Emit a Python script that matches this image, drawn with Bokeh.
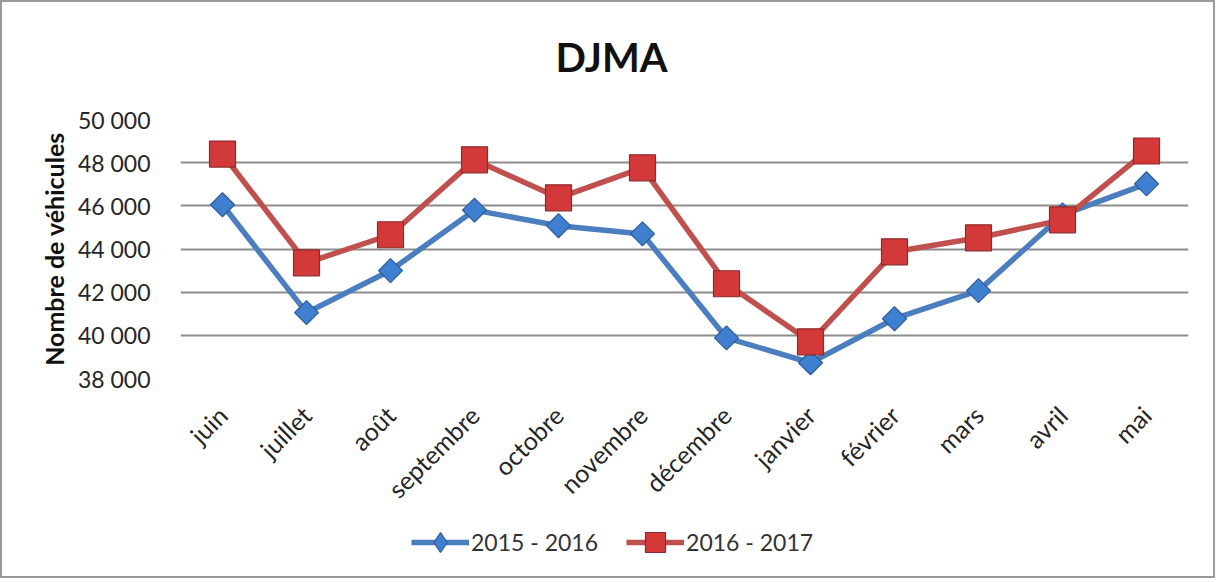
import math
from bokeh.plotting import figure
from bokeh.layouts import column
from bokeh.models import FactorRange, Range1d, FixedTicker, Legend, LegendItem, Label
from bokeh.embed import file_html
from bokeh.resources import INLINE

months = ["juin", "juillet", "août", "septembre", "octobre", "novembre",
          "décembre", "janvier", "février", "mars", "avril", "mai"]
s2015 = [46050, 41050, 43000, 45800, 45080, 44700, 39880, 38730, 40770, 42070, 45580, 47020]
s2016 = [48400, 43360, 44660, 48130, 46370, 47760, 42390, 39700, 43870, 44520, 45350, 48540]
series_names = ["2015 - 2016", "2016 - 2017"]
chart_title = "DJMA"
yticks = [38000, 40000, 42000, 44000, 46000, 48000, 50000]
ytick_labels = {t: f"{t:,}".replace(",", " ") for t in yticks}

FONT = "Lato"
blue_line = "#4a7ebf"
red_line = "#c0504d"
blue_fill, blue_edge = "#3f7fd0", "#2c5c99"
red_fill, red_edge = "#d4393a", "#8e2a2a"
TOTAL_W = 1211

# ---- title strip ----
tf = figure(width=TOTAL_W, height=100, x_range=Range1d(0, 1), y_range=Range1d(0, 1),
            output_backend="svg", toolbar_location=None,
            min_border_left=0, min_border_right=0, min_border_top=0, min_border_bottom=0)
tf.axis.visible = False
tf.grid.visible = False
tf.outline_line_color = None
tf.border_fill_color = "white"
tf.add_layout(Label(x=431, y=46, x_units="screen", y_units="screen", text=chart_title,
                    text_font=FONT, text_font_size="40px", text_font_style="bold",
                    text_align="center", text_baseline="alphabetic", text_color="#111111"))

# ---- main chart ----
p = figure(frame_width=1008, frame_height=259, x_range=FactorRange(*months, range_padding=0),
           y_range=Range1d(38000, 50000), output_backend="svg", toolbar_location=None,
           min_border_left=178, min_border_right=25, min_border_top=17, min_border_bottom=125)
p.outline_line_color = None
p.background_fill_color = "white"
p.border_fill_color = "white"

p.xgrid.grid_line_color = None
p.ygrid.grid_line_color = "#8c8c8c"
p.ygrid.grid_line_width = 2

p.yaxis.ticker = FixedTicker(ticks=yticks)
p.yaxis.major_label_overrides = ytick_labels
p.yaxis.axis_line_color = None
p.yaxis.major_tick_line_color = None
p.yaxis.minor_tick_line_color = None
p.yaxis.major_label_standoff = 24
p.yaxis.major_label_text_font = FONT
p.yaxis.major_label_text_font_size = "23px"
p.yaxis.major_label_text_color = "#262626"
p.yaxis.axis_label = "Nombre de véhicules"
p.yaxis.axis_label_text_font = FONT
p.yaxis.axis_label_text_font_style = "bold"
p.yaxis.axis_label_text_font_size = "25px"
p.yaxis.axis_label_text_color = "#111111"
p.yaxis.axis_label_standoff = 6

p.xaxis.axis_line_color = None
p.xaxis.major_tick_line_color = None
p.xaxis.minor_tick_line_color = None
p.xaxis.major_label_orientation = math.pi / 4
p.xaxis.major_label_standoff = 26
p.xaxis.major_label_text_font = FONT
p.xaxis.major_label_text_font_size = "25px"
p.xaxis.major_label_text_color = "#262626"

p.line(months, s2015, line_color=blue_line, line_width=5.5, line_join="round")
p.scatter(months, s2015, marker="square", angle=math.pi / 4, size=17,
          fill_color=blue_fill, line_color=blue_edge, line_width=1.2)
p.line(months, s2016, line_color=red_line, line_width=5.5, line_join="round")
p.scatter(months, s2016, marker="square", size=26,
          fill_color=red_fill, line_color=red_edge, line_width=1.2)

# ---- legend strip (series drawn out of its visible range; only legend swatches show) ----
lf = figure(width=TOTAL_W, height=60, x_range=FactorRange(*months, range_padding=0),
            y_range=Range1d(0, 1), output_backend="svg", toolbar_location=None,
            min_border_left=0, min_border_right=0, min_border_top=0, min_border_bottom=0)
lf.axis.visible = False
lf.grid.visible = False
lf.outline_line_color = None
lf.border_fill_color = "white"
ll1 = lf.line(months, s2015, line_color=blue_line, line_width=5.5)
lm1 = lf.scatter(months, s2015, marker="diamond", fill_color=blue_fill, line_color=blue_edge, line_width=1.2)
ll2 = lf.line(months, s2016, line_color=red_line, line_width=5.5)
lm2 = lf.scatter(months, s2016, marker="square", fill_color=red_fill, line_color=red_edge, line_width=1.2)
legend = Legend(items=[LegendItem(label=series_names[0], renderers=[ll1, lm1]),
                       LegendItem(label=series_names[1], renderers=[ll2, lm2])],
                location=(231, 9), orientation="horizontal",
                padding=0, margin=0, spacing=28, label_standoff=2,
                glyph_width=58, glyph_height=50,
                border_line_color=None, background_fill_alpha=0,
                label_text_font=FONT, label_text_font_size="23px",
                label_text_color="#333333", label_text_baseline="middle")
lf.add_layout(legend, "center")

layout = column(tf, p, lf, spacing=0, styles={"border": "2px solid #9a9a9a"})
open("out.html", "w").write(file_html(layout, INLINE))
